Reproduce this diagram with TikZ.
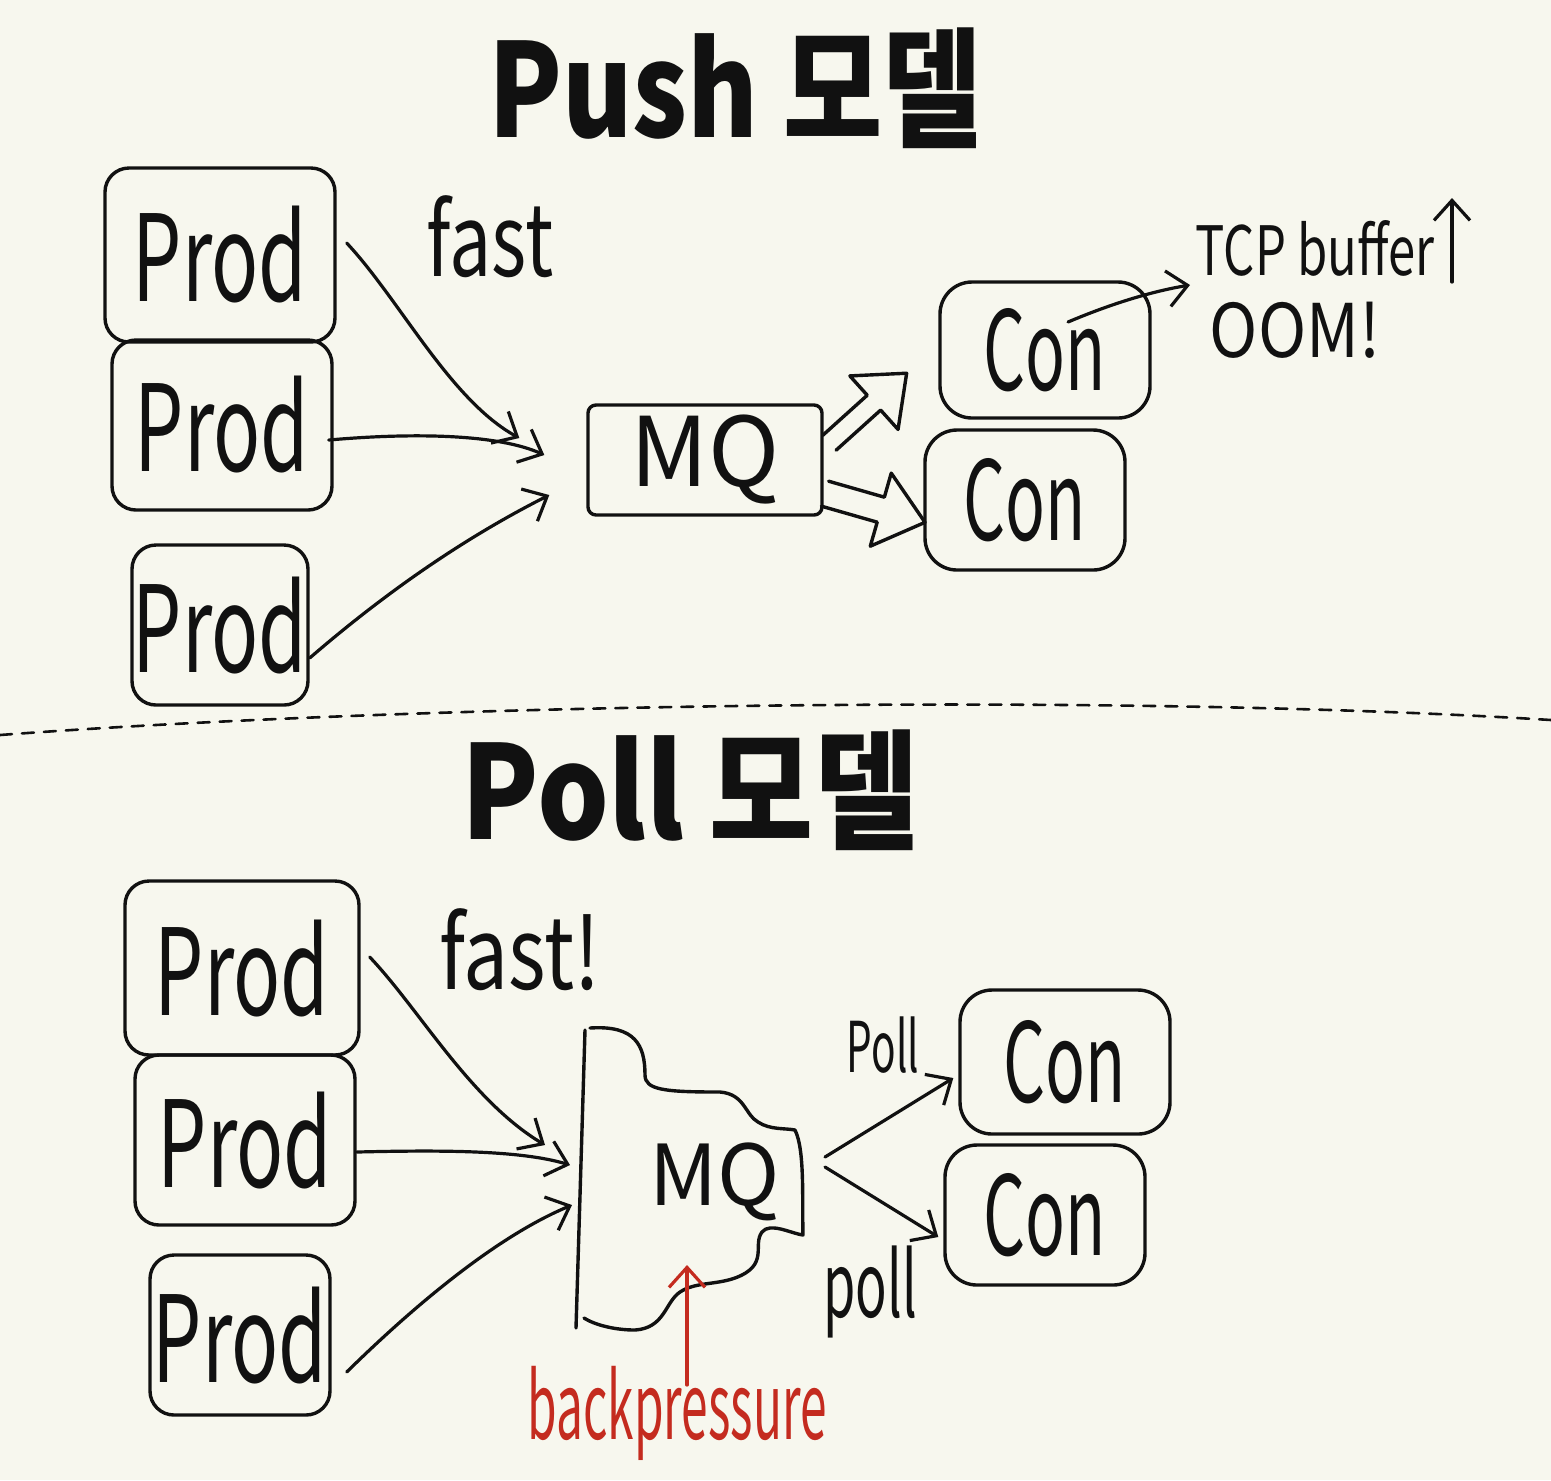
\documentclass[tikz,border=0pt]{standalone}
\usepackage{fontspec}
\setmainfont{Noto Sans CJK KR}
\usepackage{graphicx}
\usetikzlibrary{arrows.meta,calc}
\definecolor{bg}{HTML}{F7F7EE}
\definecolor{pen}{HTML}{111111}
\definecolor{redpen}{HTML}{C42B1F}
\newcommand{\nar}[2]{\scalebox{#1}[1]{#2}}
\begin{document}
\begin{tikzpicture}[x=0.5pt,y=-0.5pt, line cap=round, line join=round,
  box/.style={draw=pen, line width=1.7pt, rounded corners=12pt, inner sep=0pt, text=pen},
  prodbox/.style={box, font=\fontsize{60}{60}\selectfont},
  conbox/.style={box, rounded corners=16pt, font=\fontsize{55}{55}\selectfont},
  mqbox/.style={box, rounded corners=4pt, font=\fontsize{48}{48}\selectfont},
  titletext/.style={inner sep=0pt, text=pen, font=\fontsize{65}{65}\selectfont\bfseries},
  hand/.style={inner sep=0pt, text=pen},
  arr/.style={draw=pen, line width=1.6pt, -{Straight Barb[length=10pt,width=18pt]}},
  blockarr/.style={draw=pen, line width=1.7pt},
  redarr/.style={draw=redpen, line width=1.6pt, -{Straight Barb[length=10pt,width=18pt]}}
]
\fill[bg] (0,0) rectangle (1551,1480);
\useasboundingbox (0,0) rectangle (1551,1480);

% ---------- Push model ----------
\node[titletext] (t1) at (735,88) {\nar{0.83}{Push 모델}};

\node[prodbox, minimum width=115pt, minimum height=87pt] (prodA) at (220,255) {\nar{0.65}{Prod}};
\node[prodbox, minimum width=110pt, minimum height=85pt] (prodB) at (222,425) {\nar{0.65}{Prod}};
\node[prodbox, minimum width=88pt, minimum height=80pt] (prodC) at (220,625) {\nar{0.65}{Prod}};

\node[mqbox, minimum width=117pt, minimum height=55pt] (mq) at (705,460) {MQ};

\node[conbox, minimum width=105pt, minimum height=68pt] (conA) at (1045,350) {\nar{0.6}{Con}};
\node[conbox, minimum width=100pt, minimum height=70pt] (conB) at (1025,500) {\nar{0.6}{Con}};

\node[hand, font=\fontsize{50}{50}\selectfont] (fast1) at (490,237) {\nar{0.75}{fast}};

\draw[arr] ($(prodA.east)+(10,-12)$) .. controls (400,300) and (450,400) .. ($(mq.west)+(-67,-22)$);
\draw[arr] ($(prodB.east)+(-5,15)$) .. controls (420,432) and (500,435) .. ($(mq.west)+(-42,-5)$);
\draw[arr] ($(prodC.east)+(0,33)$) .. controls (400,580) and (480,530) .. ($(mq.west)+(-37,35)$);

% hollow block arrows MQ -> Con
\begin{scope}[shift={(868,408)}, rotate=42]
  \draw[blockarr] (-52,-10) -- (8,-10) -- (8,-36) -- (52,0) -- (8,36) -- (8,10) -- (-52,10);
\end{scope}
\begin{scope}[shift={(875,508)}, rotate=-16]
  \draw[blockarr] (-52,-13) -- (6,-13) -- (6,-38) -- (52,0) -- (6,38) -- (6,13) -- (-52,13);
\end{scope}

\node[hand, font=\fontsize{34}{34}\selectfont] (tcp) at (1315,248) {\nar{0.72}{TCP buffer}};
\node[hand, font=\fontsize{37}{37}\selectfont] (oom) at (1295,330) {\nar{0.88}{OOM!}};
\coordinate (tcpend) at (1190,285);
\draw[arr] ($(conA.center)+(23,-28)$) .. controls (1120,300) and (1160,290) .. (tcpend);
\coordinate (up1) at (1452,282);
\coordinate (up2) at (1452,198);
\draw[arr] (up1) -- (up2);

% separator
\coordinate (sepL) at (0,735);
\coordinate (sepR) at (1551,720);
\draw[pen, line width=1.3pt, dash pattern=on 6pt off 5pt] (sepL) .. controls (400,705) and (1100,692) .. (sepR);

% ---------- Poll model ----------
\node[titletext] (t2) at (690,790) {\nar{0.87}{Poll 모델}};

\node[prodbox, minimum width=117pt, minimum height=87pt] (prodD) at (242,968) {\nar{0.65}{Prod}};
\node[prodbox, minimum width=110pt, minimum height=85pt] (prodE) at (245,1140) {\nar{0.65}{Prod}};
\node[prodbox, minimum width=90pt, minimum height=80pt] (prodF) at (240,1335) {\nar{0.65}{Prod}};

\node[hand, font=\fontsize{42}{42}\selectfont] (mq2) at (715,1182) {MQ};
\draw[pen, line width=1.7pt] (585,1030) -- (576,1328);
\draw[pen, line width=1.7pt]
  (590,1028) .. controls (635,1025) and (645,1045) .. (645,1075)
  .. controls (645,1090) and (665,1092) .. (720,1092)
  .. controls (745,1094) and (745,1115) .. (758,1122)
  .. controls (770,1130) and (785,1128) .. (795,1130)
  .. controls (805,1150) and (802,1200) .. (803,1235)
  .. controls (790,1233) and (770,1222) .. (762,1232)
  .. controls (752,1245) and (770,1265) .. (735,1278)
  .. controls (715,1285) and (695,1282) .. (680,1292)
  .. controls (665,1302) and (665,1328) .. (635,1330)
  .. controls (615,1330) and (595,1325) .. (584,1318);

\node[conbox, minimum width=105pt, minimum height=72pt] (conC) at (1065,1062) {\nar{0.6}{Con}};
\node[conbox, minimum width=100pt, minimum height=70pt] (conD) at (1045,1215) {\nar{0.6}{Con}};

\node[hand, font=\fontsize{50}{50}\selectfont] (fast2) at (520,950) {\nar{0.8}{fast!}};

\draw[arr] ($(prodD.east)+(9,-11)$) .. controls (420,1010) and (470,1100) .. ($(mq2.center)+(-170,-37)$);
\draw[arr] ($(prodE.east)+(0,12)$) .. controls (440,1150) and (520,1150) .. ($(mq2.center)+(-145,-17)$);
\draw[arr] ($(prodF.east)+(15,37)$) .. controls (420,1300) and (500,1235) .. ($(mq2.center)+(-143,23)$);

\draw[arr] ($(mq2.center)+(110,-25)$) -- ($(conC.west)+(-5,16)$);
\draw[arr] ($(mq2.center)+(110,-15)$) -- ($(conD.west)+(-5,22)$);

\node[hand, font=\fontsize{35}{35}\selectfont] (poll1) at (883,1045) {\nar{0.58}{Poll}};
\node[hand, font=\fontsize{45}{45}\selectfont] (poll2) at (870,1292) {\nar{0.58}{poll}};

\node[inner sep=0pt, text=redpen, font=\fontsize{46}{46}\selectfont] (bp) at (677,1413) {\nar{0.52}{backpressure}};
\coordinate (bpstart) at (687,1385);
\coordinate (bpend) at (687,1265);
\draw[redarr] (bpstart) -- (bpend);
\end{tikzpicture}
\end{document}
